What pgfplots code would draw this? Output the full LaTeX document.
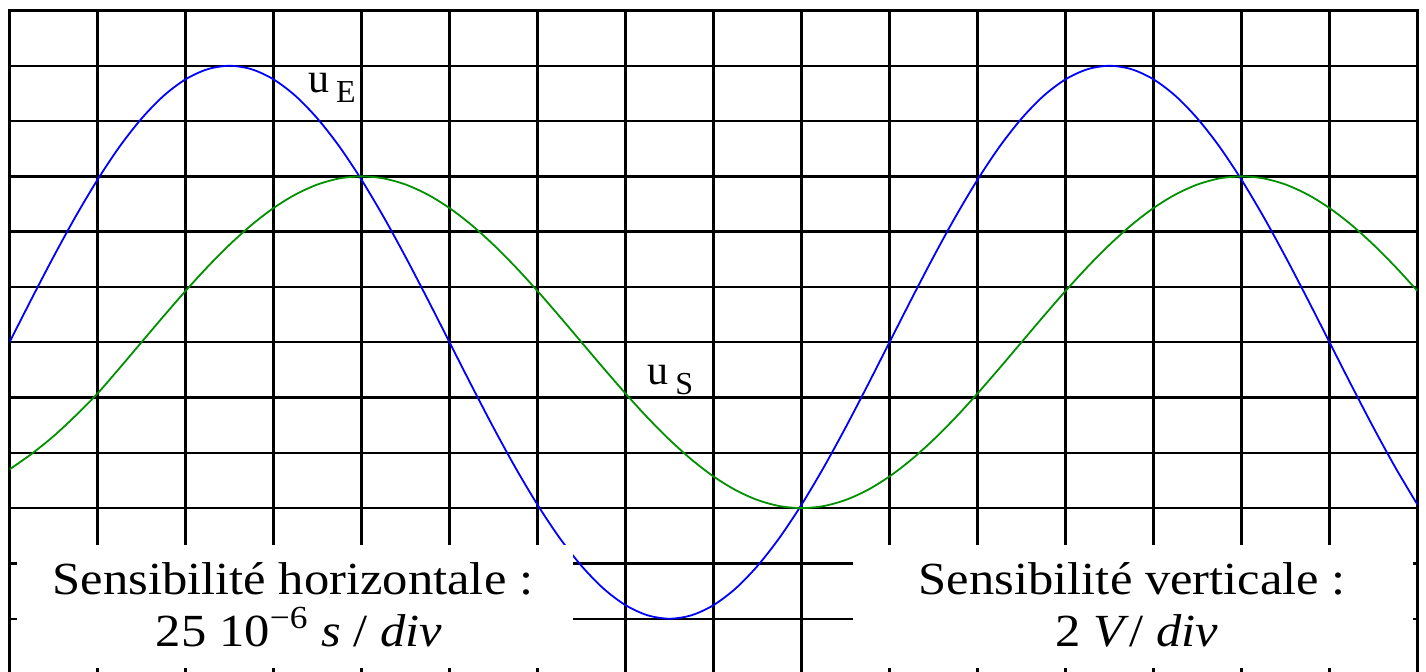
\documentclass[border=0pt]{standalone}
\usepackage{pgfplots}
\pgfplotsset{compat=1.18}
\usepackage{fontspec}
\setmainfont[FakeStretch=1.1]{Liberation Serif}
\newfontfamily\lab{Liberation Serif}
\definecolor{ugreen}{RGB}{0,145,0}
\begin{document}
\begin{tikzpicture}
\begin{axis}[at={(0,0)},anchor=south west,
  width=704pt, height=331.75pt, scale only axis,
  xmin=0, xmax=16, ymin=-6, ymax=6,
  xtick={0,...,16}, ytick={-6,...,6},
  xticklabel=\empty, yticklabel=\empty,
  major tick length=0pt,
  grid=major, major grid style={black, line width=1.2pt},
  axis line style={black, line width=1.2pt}]
\addplot[blue, line width=0.9pt, smooth] coordinates {
(0,0) (0.25,0.782) (0.5,1.545) (0.75,2.270) (1,2.939) (1.25,3.536) (1.5,4.045) (1.75,4.455) (2,4.755) (2.25,4.938) (2.5,5) (2.75,4.938) (3,4.755) (3.25,4.455) (3.5,4.045) (3.75,3.536) (4,2.939) (4.25,2.270) (4.5,1.545) (4.75,0.782) (5,0) (5.25,-0.782) (5.5,-1.545) (5.75,-2.270) (6,-2.939) (6.25,-3.536) (6.5,-4.045) (6.75,-4.455) (7,-4.755) (7.25,-4.938) (7.5,-5) (7.75,-4.938) (8,-4.755) (8.25,-4.455) (8.5,-4.045) (8.75,-3.536) (9,-2.939) (9.25,-2.270) (9.5,-1.545) (9.75,-0.782) (10,0) (10.25,0.782) (10.5,1.545) (10.75,2.270) (11,2.939) (11.25,3.536) (11.5,4.045) (11.75,4.455) (12,4.755) (12.25,4.938) (12.5,5) (12.75,4.938) (13,4.755) (13.25,4.455) (13.5,4.045) (13.75,3.536) (14,2.939) (14.25,2.270) (14.5,1.545) (14.75,0.782) (15,0) (15.25,-0.782) (15.5,-1.545) (15.75,-2.270) (16,-2.939)};
\addplot[ugreen, line width=0.9pt, smooth] coordinates {
(0,-2.30) (0.25,-2.02) (0.5,-1.70) (0.75,-1.33) (1,-0.927) (1.25,-0.469) (1.5,0) (1.75,0.469) (2,0.927) (2.25,1.362) (2.5,1.763) (2.75,2.121) (3,2.427) (3.25,2.673) (3.5,2.853) (3.75,2.963) (4,3) (4.25,2.963) (4.5,2.853) (4.75,2.673) (5,2.427) (5.25,2.121) (5.5,1.763) (5.75,1.362) (6,0.927) (6.25,0.469) (6.5,0) (6.75,-0.469) (7,-0.927) (7.25,-1.362) (7.5,-1.763) (7.75,-2.121) (8,-2.427) (8.25,-2.673) (8.5,-2.853) (8.75,-2.963) (9,-3) (9.25,-2.963) (9.5,-2.853) (9.75,-2.673) (10,-2.427) (10.25,-2.121) (10.5,-1.763) (10.75,-1.362) (11,-0.927) (11.25,-0.469) (11.5,0) (11.75,0.469) (12,0.927) (12.25,1.362) (12.5,1.763) (12.75,2.121) (13,2.427) (13.25,2.673) (13.5,2.853) (13.75,2.963) (14,3) (14.25,2.963) (14.5,2.853) (14.75,2.673) (15,2.427) (15.25,2.121) (15.5,1.763) (15.75,1.362) (16,0.927)};
% white boxes for the texts
\fill[white] (axis cs:0.085,-3.666) rectangle (axis cs:6.40,-5.90);
\fill[white] (axis cs:9.585,-3.666) rectangle (axis cs:15.95,-5.90);
\node[anchor=base, inner sep=0pt, font=\fontsize{23}{26}\selectfont] at (axis cs:3.22,-4.57) {Sensibilité horizontale :};
\node[anchor=base, inner sep=0pt, font=\fontsize{23}{26}\selectfont] at (axis cs:3.29,-5.51) {25 10\textsuperscript{−6} \textit{s} / \textit{div}};
\node[anchor=base, inner sep=0pt, font=\fontsize{23}{26}\selectfont] at (axis cs:12.76,-4.57) {Sensibilité verticale :};
\node[anchor=base, inner sep=0pt, font=\fontsize{23}{26}\selectfont] at (axis cs:12.81,-5.51) {2 \textit{V}/ \textit{div}};
% curve labels
\node[anchor=base west, inner sep=0pt, font=\lab\fontsize{21}{21}\selectfont] at (axis cs:3.39,4.508) {u\,\raisebox{-5pt}{\fontsize{16}{16}\selectfont E}};
\node[anchor=base west, inner sep=0pt, font=\lab\fontsize{21}{21}\selectfont] at (axis cs:7.244,-0.772) {u\,\raisebox{-5pt}{\fontsize{16}{16}\selectfont S}};
\end{axis}
\pgfresetboundingbox
\useasboundingbox (-4.75pt,1.5pt) rectangle (708.25pt,337pt);
\end{tikzpicture}
\end{document}
